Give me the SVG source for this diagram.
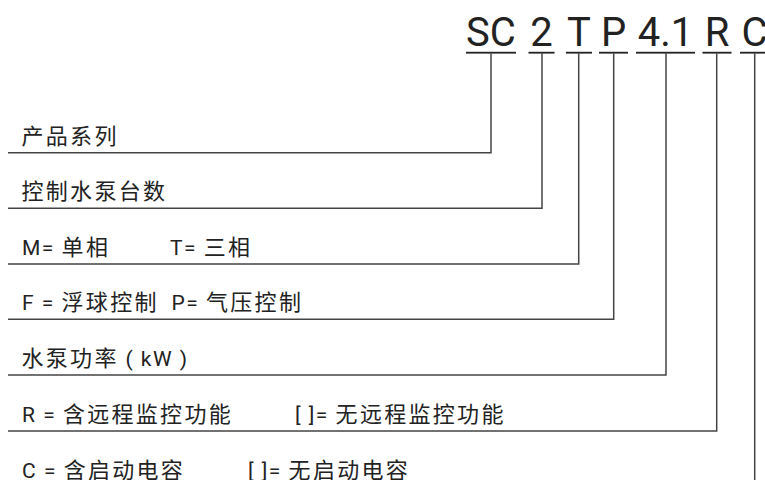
<svg xmlns="http://www.w3.org/2000/svg" width="765" height="480" viewBox="0 0 765 480">
<style>
.code{font-family:Roboto,"Liberation Sans","Noto Sans CJK SC",sans-serif;font-size:40px;fill:#222;text-anchor:middle}
.lbl{font-family:Roboto,"Noto Sans CJK SC","Liberation Sans",sans-serif;font-size:21px;letter-spacing:1.5px;fill:#222}
.c{font-family:"Noto Sans CJK SC",sans-serif;font-size:22px;letter-spacing:2.3px}
.ul{fill:#222}
.conn{fill:none;stroke:#444;stroke-width:1.5}
</style>
<rect width="765" height="480" fill="#fff"/>
<g id="code">
<g id="code-SC"><text class="code" x="491" y="45.5">SC</text><rect class="ul" x="466" y="51.8" width="50" height="1.8"/></g>
<g id="code-2"><text class="code" x="541.5" y="45.5">2</text><rect class="ul" x="528.5" y="51.8" width="26" height="1.8"/></g>
<g id="code-T"><text class="code" x="579" y="45.5">T</text><rect class="ul" x="566" y="51.8" width="26" height="1.8"/></g>
<g id="code-P"><text class="code" x="613.5" y="45.5">P</text><rect class="ul" x="599" y="51.8" width="29" height="1.8"/></g>
<g id="code-41"><text class="code" x="665.5" y="45.5">4.1</text><rect class="ul" x="636" y="51.8" width="59" height="1.8"/></g>
<g id="code-R"><text class="code" x="717" y="45.5">R</text><rect class="ul" x="702.5" y="51.8" width="29" height="1.8"/></g>
<g id="code-C"><text class="code" x="754.5" y="45.5">C</text><rect class="ul" x="740" y="51.8" width="30" height="1.8"/></g>
</g>
<g id="connectors">
<polyline class="conn" points="491,53.6 491,152.7 8,152.7"/>
<polyline class="conn" points="542,53.6 542,208.3 8,208.3"/>
<polyline class="conn" points="578.7,53.6 578.7,264 8,264"/>
<polyline class="conn" points="613.7,53.6 613.7,319.3 8,319.3"/>
<polyline class="conn" points="666,53.6 666,375 8,375"/>
<polyline class="conn" points="716.7,53.6 716.7,431 8,431"/>
<polyline class="conn" points="754.7,53.6 754.7,480"/>
</g>
<g id="label-series"><text class="lbl" x="21.5" y="143.7"><tspan class="c">产品系列</tspan></text></g>
<g id="label-count"><text class="lbl" x="21.5" y="199.3"><tspan class="c">控制水泵台数</tspan></text></g>
<g id="label-phase"><text class="lbl" x="22" y="255">M= <tspan class="c">单相</tspan></text><text class="lbl" x="170" y="255">T= <tspan class="c">三相</tspan></text></g>
<g id="label-control"><text class="lbl" x="22" y="310.3">F = <tspan class="c">浮球控制</tspan></text><text class="lbl" x="171.5" y="310.3">P= <tspan class="c">气压控制</tspan></text></g>
<g id="label-power"><text class="lbl" x="21.5" y="366"><tspan class="c">水泵功率</tspan> ( kW )</text></g>
<g id="label-remote"><text class="lbl" x="22" y="422">R = <tspan class="c">含远程监控功能</tspan></text><text class="lbl" x="295" y="422">[ ]= <tspan class="c">无远程监控功能</tspan></text></g>
<g id="label-cap"><text class="lbl" x="22" y="478">C = <tspan class="c">含启动电容</tspan></text><text class="lbl" x="248" y="478">[ ]= <tspan class="c">无启动电容</tspan></text></g>
</svg>
